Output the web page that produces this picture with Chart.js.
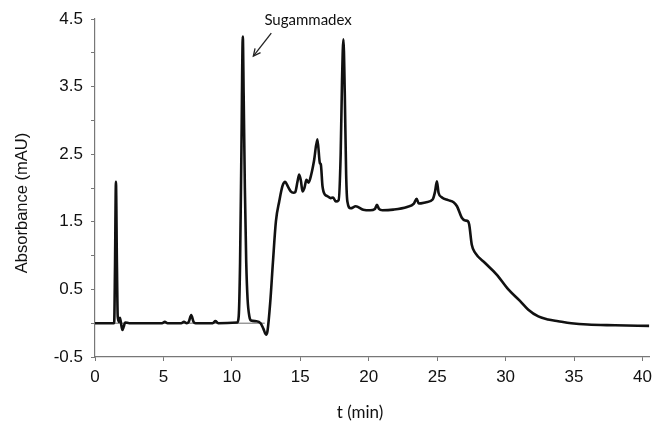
<!DOCTYPE html>
<html>
<head>
<meta charset="utf-8">
<script src="https://cdn.jsdelivr.net/npm/chart.js@4.4.1/dist/chart.umd.min.js"></script>
<style>
  html, body { margin: 0; padding: 0; background: #fff; }
  #wrap { width: 658px; height: 422px; }
</style>
</head>
<body>
<div id="wrap"><canvas id="chart" width="658" height="422"></canvas></div>
<script>
// retention time (min) and absorbance (mAU)
const times = [0, 1.40, 1.46, 1.53, 1.60, 1.66, 1.75, 1.82, 1.90, 2.00, 2.10, 2.20, 2.50,
  4.90, 5.10, 5.30, 6.30, 6.50, 6.70, 6.85, 7.03, 7.20, 7.35, 8.60, 8.80, 9.00,
  10.40, 10.50, 10.60, 10.70, 10.80, 10.86, 10.95, 11.05, 11.15, 11.28, 11.40, 11.80,
  12.10, 12.30, 12.50, 12.60, 12.80, 13.00, 13.22, 13.46, 13.70, 13.90, 14.10, 14.30,
  14.50, 14.63, 14.80, 14.92, 15.05, 15.16, 15.30, 15.45, 15.60, 15.80, 16.00, 16.25,
  16.43, 16.50, 16.62, 16.81, 16.98, 17.22, 17.40, 17.59, 17.80, 17.95, 18.05, 18.15,
  18.25, 18.35, 18.44, 18.68, 19.05, 19.60, 20.10, 20.45, 20.60, 20.75, 21.00, 21.80,
  22.80, 23.30, 23.50, 23.65, 24.20, 24.67, 24.85, 24.98, 25.10, 25.35, 25.80, 26.20,
  26.45, 26.80, 27.05, 27.24, 27.34, 27.53, 27.78, 28.50, 29.35, 30.20, 31.05, 31.66,
  32.39, 33.10, 33.84, 34.80, 36.00, 38.00, 40.50];
const absorbance = [0, 0, 0.80, 2.09, 0.90, 0.10, 0.02, 0.08, 0, -0.10, -0.05, 0.01, 0,
  0, 0.02, 0, 0, 0.02, 0, 0.02, 0.12, 0.02, 0, 0, 0.03, 0,
  0.01, 0.10, 0.90, 2.60, 4.24, 3.40, 2.00, 0.90, 0.35, 0.10, 0.04, 0.03,
  0, -0.08, -0.17, -0.12, 0.30, 0.90, 1.51, 1.80, 2.03, 2.09, 2.02, 1.95,
  1.93, 1.94, 2.10, 2.20, 2.10, 1.95, 2.00, 2.12, 2.08, 2.20, 2.40, 2.72,
  2.37, 2.35, 2.03, 1.90, 1.88, 1.85, 1.86, 1.80, 1.82, 2.50, 3.60, 4.20,
  3.40, 2.20, 1.80, 1.70, 1.73, 1.68, 1.67, 1.69, 1.75, 1.69, 1.67, 1.68,
  1.72, 1.77, 1.84, 1.77, 1.79, 1.83, 1.95, 2.10, 1.93, 1.86, 1.82, 1.79,
  1.73, 1.56, 1.52, 1.51, 1.46, 1.16, 1.04, 0.89, 0.72, 0.50, 0.33, 0.20,
  0.10, 0.055, 0.03, 0, -0.02, -0.03, -0.04];
// thin reference baseline under the early peaks
const baseTimes = [0, 12.4];
const baseValues = [0, 0];

const xTicks = [0, 5, 10, 15, 20, 25, 30, 35, 40];
const yLabels = [-0.5, 0.5, 1.5, 2.5, 3.5, 4.5];

// axis titles and the Sugammadex label, drawn on top of the chart
const textPlugin = {
  id: 'texts',
  afterDraw(chart) {
    const { ctx, scales: { x, y } } = chart;
    ctx.save();
    ctx.fillStyle = '#111';
    ctx.textAlign = 'center';
    ctx.textBaseline = 'middle';

    ctx.font = '17px Lato, "Open Sans", sans-serif';
    ctx.fillText('t (min)', 360, 413);

    ctx.save();
    ctx.translate(22, 203);
    ctx.rotate(-Math.PI / 2);
    ctx.font = '16.5px "Liberation Sans", Arial, sans-serif';
    ctx.fillText('Absorbance (mAU)', 0, 0);
    ctx.restore();

    ctx.font = '15px Lato, "Open Sans", sans-serif';
    ctx.fillText('Sugammadex', x.getPixelForValue(15.57), y.getPixelForValue(4.48));
    // arrow
    const x1 = x.getPixelForValue(12.88), y1 = y.getPixelForValue(4.29);
    const x2 = x.getPixelForValue(11.57), y2 = y.getPixelForValue(3.95);
    ctx.strokeStyle = '#222';
    ctx.lineWidth = 1.3;
    ctx.beginPath();
    ctx.moveTo(x1, y1);
    ctx.lineTo(x2, y2);
    ctx.stroke();
    const ang = Math.atan2(y2 - y1, x2 - x1);
    const len = 8;
    ctx.beginPath();
    ctx.moveTo(x2 - len * Math.cos(ang - 0.45), y2 - len * Math.sin(ang - 0.45));
    ctx.lineTo(x2, y2);
    ctx.lineTo(x2 - len * Math.cos(ang + 0.45), y2 - len * Math.sin(ang + 0.45));
    ctx.stroke();
    ctx.restore();
  }
};

new Chart(document.getElementById('chart'), {
  type: 'line',
  data: {
    datasets: [
      {
        data: times.map((t, i) => ({ x: t, y: absorbance[i] })),
        borderColor: '#111',
        borderWidth: 2.6,
        pointRadius: 0,
        cubicInterpolationMode: 'monotone',
        fill: false
      },
      {
        data: baseTimes.map((t, i) => ({ x: t, y: baseValues[i] })),
        borderColor: '#444',
        borderWidth: 0.8,
        pointRadius: 0,
        fill: false
      }
    ]
  },
  options: {
    responsive: false,
    animation: false,
    layout: { padding: { top: 19, right: 7, left: 0, bottom: 0 } },
    plugins: { legend: { display: false }, tooltip: { enabled: false } },
    scales: {
      x: {
        type: 'linear',
        min: 0,
        max: 40.5,
        afterFit(scale) { scale.height = 65; },
        afterBuildTicks(scale) { scale.ticks = xTicks.map(v => ({ value: v })); },
        ticks: {
          color: '#111',
          font: { family: '"Liberation Sans", Arial, sans-serif', size: 17 },
          padding: 6,
          maxRotation: 0
        },
        grid: { drawOnChartArea: false, drawTicks: true, tickLength: 4, color: '#777' },
        border: { color: '#777', width: 1.2 }
      },
      y: {
        min: -0.5,
        max: 4.5,
        afterFit(scale) { scale.width = 95; },
        ticks: {
          stepSize: 0.5,
          color: '#111',
          font: { family: '"Liberation Sans", Arial, sans-serif', size: 17 },
          padding: 8,
          callback: (v) => yLabels.some(l => Math.abs(l - v) < 1e-6) ? v.toFixed(1) : ''
        },
        grid: { drawOnChartArea: false, drawTicks: true, tickLength: 4, color: '#777' },
        border: { color: '#777', width: 1.2 }
      }
    }
  },
  plugins: [textPlugin]
});
</script>
</body>
</html>
